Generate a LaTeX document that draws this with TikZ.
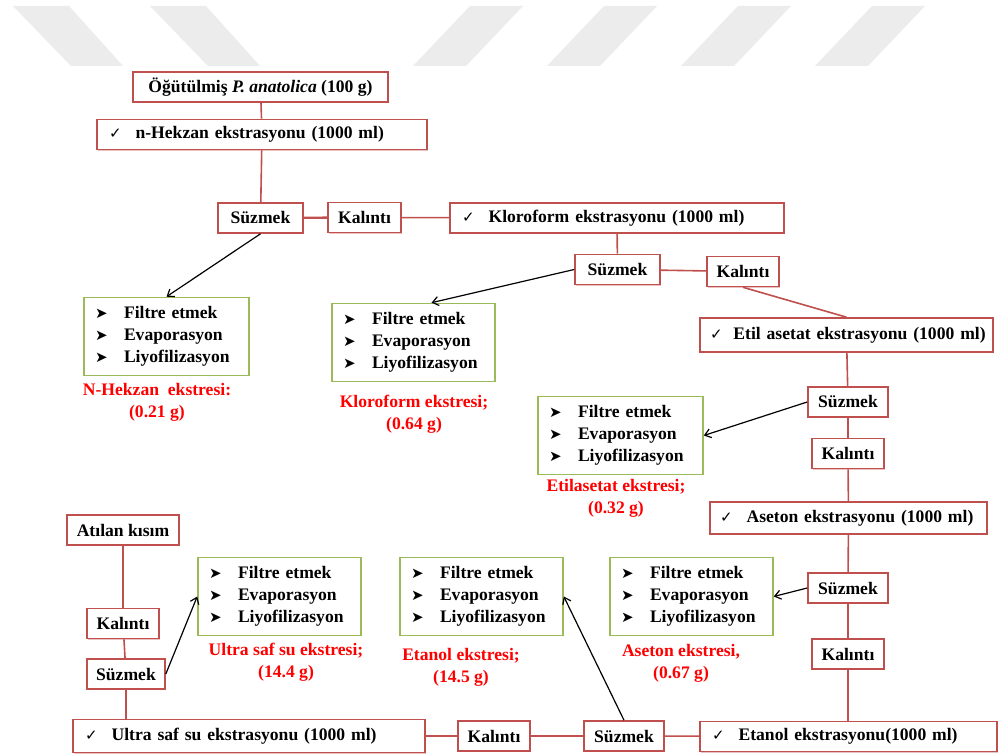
\documentclass[tikz,border=0pt]{standalone}
\usepackage{fontspec}
\setmainfont{Liberation Serif}
\newfontfamily\symfont{DejaVu Sans}
\usepackage{tikz}
\usetikzlibrary{arrows.meta, positioning, shadows}

\definecolor{boxred}{RGB}{192,80,77}
\definecolor{boxgreen}{RGB}{155,187,89}
\definecolor{wmgray}{RGB}{236,236,236}

\newcommand{\chk}[1][14pt]{{\symfont\fontsize{15}{15}\selectfont ✓}\hspace{#1}}
\newcommand{\bul}{\makebox[29pt][l]{\symfont\fontsize{15}{15}\selectfont ➤}}
\newcommand{\steps}{\bul Filtre etmek\\ \bul Evaporasyon\\ \bul Liyofilizasyon}

\begin{document}
\begin{tikzpicture}[
        x=1pt, y=-1pt,
        every node/.style={font=\fontsize{17.6}{22}\selectfont\bfseries},
        redbox/.style={rectangle, draw=boxred, line width=1.6pt, fill=white, minimum height=30pt, inner sep=0pt,
            drop shadow={shadow xshift=1.4pt, shadow yshift=-1.4pt, fill=boxred!35, opacity=1}},
        chkbox/.style={redbox, align=left, inner xsep=12pt, text width=#1},
        stepbox/.style={rectangle, draw=boxgreen, line width=1.6pt, fill=white, align=left, inner xsep=11pt, inner ysep=0pt, text width=#1, minimum height=78pt},
        yield/.style={text=red, align=center},
        link/.style={draw=boxred, line width=1.6pt},
        arrow/.style={-{Straight Barb[length=6pt,width=9pt]}, line width=1.2pt}
    ]

    \useasboundingbox (0,0) rectangle (1002,754);
    \fill[white] (0,0) rectangle (1002,754);

    % watermark band
    \foreach \a in {13,150}
        \fill[wmgray] (\a,6) -- ++(56,0) -- ++(54,60) -- ++(-52,0) -- cycle;
    \foreach \a in {470,604,738,872}
        \fill[wmgray] (\a,6) -- ++(53,0) -- ++(-57,60) -- ++(-53,0) -- cycle;

    % Nodes
    \node[redbox, minimum width=255pt] (start) at (260.5,87) {Öğütülmiş \textit{P. anatolica} (100 g)};
    \node[chkbox=306pt] (hexane) at (262,134.5) {\mbox{\chk n-Hekzan ekstrasyonu (1000 ml)}};
    \node[redbox, minimum width=85pt] (filt1) at (260.5,218) {Süzmek};
    \node[redbox, minimum width=73pt] (res1) at (364.5,217.5) {Kalıntı};
    \node[chkbox=310pt] (chloro) at (617,218) {\mbox{\chk Kloroform ekstrasyonu (1000 ml)}};
    \node[redbox, minimum width=85pt] (filt2) at (617.5,269.5) {Süzmek};
    \node[redbox, minimum width=72pt] (res2) at (743,271.5) {Kalıntı};
    \node[chkbox=273pt, inner xsep=10pt, minimum height=34pt] (ethylac) at (846.5,335) {\mbox{\chk[5pt] Etil asetat ekstrasyonu (1000 ml)}};
    \node[redbox, minimum width=80pt] (filt3) at (848,402) {Süzmek};
    \node[redbox, minimum width=72pt] (res3) at (848,453.5) {Kalıntı};
    \node[chkbox=257pt, inner xsep=10pt, minimum height=32pt] (aceton) at (848.5,518) {\mbox{\chk Aseton ekstrasyonu (1000 ml)}};
    \node[redbox, minimum width=80pt] (filt4) at (848,588) {Süzmek};
    \node[redbox, minimum width=72pt] (res4) at (848,654) {Kalıntı};
    \node[chkbox=273pt] (ethanol) at (848.5,736.5) {\mbox{\chk Etanol ekstrasyonu(1000 ml)}};
    \node[redbox, minimum width=80pt] (filt5) at (624,736) {Süzmek};
    \node[redbox, minimum width=72pt] (res5) at (494,736) {Kalıntı};
    \node[chkbox=328pt, minimum height=33pt] (ultra) at (249,736) {\mbox{\chk Ultra saf su ekstrasyonu (1000 ml)}};
    \node[redbox, minimum width=78pt] (filt6) at (126,674) {Süzmek};
    \node[redbox, minimum width=72pt] (res6) at (123,623.5) {Kalıntı};
    \node[redbox, minimum width=112pt] (discard) at (123,530) {Atılan kısım};

    \node[stepbox=143pt] (step1) at (166.5,336.5) {\steps};
    \node[stepbox=141pt] (step2) at (413.5,342.5) {\steps};
    \node[stepbox=143pt] (step3) at (620.5,435.5) {\steps};
    \node[stepbox=141pt] (step4) at (691.5,596.5) {\steps};
    \node[stepbox=141pt] (step5) at (481.5,596.5) {\steps};
    \node[stepbox=141pt] (step6) at (279.5,596.5) {\steps};

    \node[yield] (yield1) at (157,402) {N-Hekzan\ \ ekstresi:\\(0.21 g)};
    \node[yield] (yield2) at (414,414.5) {Kloroform ekstresi;\\(0.64 g)};
    \node[yield] (yield3) at (616,498.5) {Etilasetat ekstresi;\\(0.32 g)};
    \node[yield] (yield4) at (681,663) {Aseton ekstresi,\\(0.67 g)};
    \node[yield] (yield5) at (461,667.5) {Etanol ekstresi;\\(14.5 g)};
    \node[yield] (yield6) at (286,662.5) {Ultra saf su ekstresi;\\(14.4 g)};

    % Links
    \draw[link] (start) -- (hexane);
    \draw[link] (hexane) -- (filt1);
    \draw[link, line width=2.4pt] (filt1) -- (res1);
    \draw[link] (res1) -- (chloro);
    \draw[link] (chloro) -- (filt2);
    \draw[link] (filt2) -- (res2);
    \draw[link] (res2.south) -- (ethylac.north);
    \draw[link] (ethylac) -- (filt3);
    \draw[link] (filt3) -- (res3);
    \draw[link] (res3) -- (aceton);
    \draw[link] (aceton) -- (filt4);
    \draw[link] (filt4) -- (res4);
    \draw[link] (res4) -- (ethanol.north -| res4);
    \draw[link] (ethanol) -- (filt5);
    \draw[link] (filt5) -- (res5);
    \draw[link] (res5) -- (ultra);
    \draw[link] (filt6.south) -- (filt6.south |- ultra.north);
    \draw[link] (filt6) -- (res6);
    \draw[link] (res6) -- (discard);

    % Arrows
    \draw[arrow] (filt1.south) -- (step1.north);
    \draw[arrow] (filt2.west) -- ([xshift=18pt]step2.north);
    \draw[arrow] (filt3.west) -- (step3.east);
    \draw[arrow] (filt4.west) -- (step4.east);
    \draw[arrow] (filt5.north) -- (step5.east);
    \draw[arrow] (filt6.east) -- (step6.west);

\end{tikzpicture}
\end{document}
